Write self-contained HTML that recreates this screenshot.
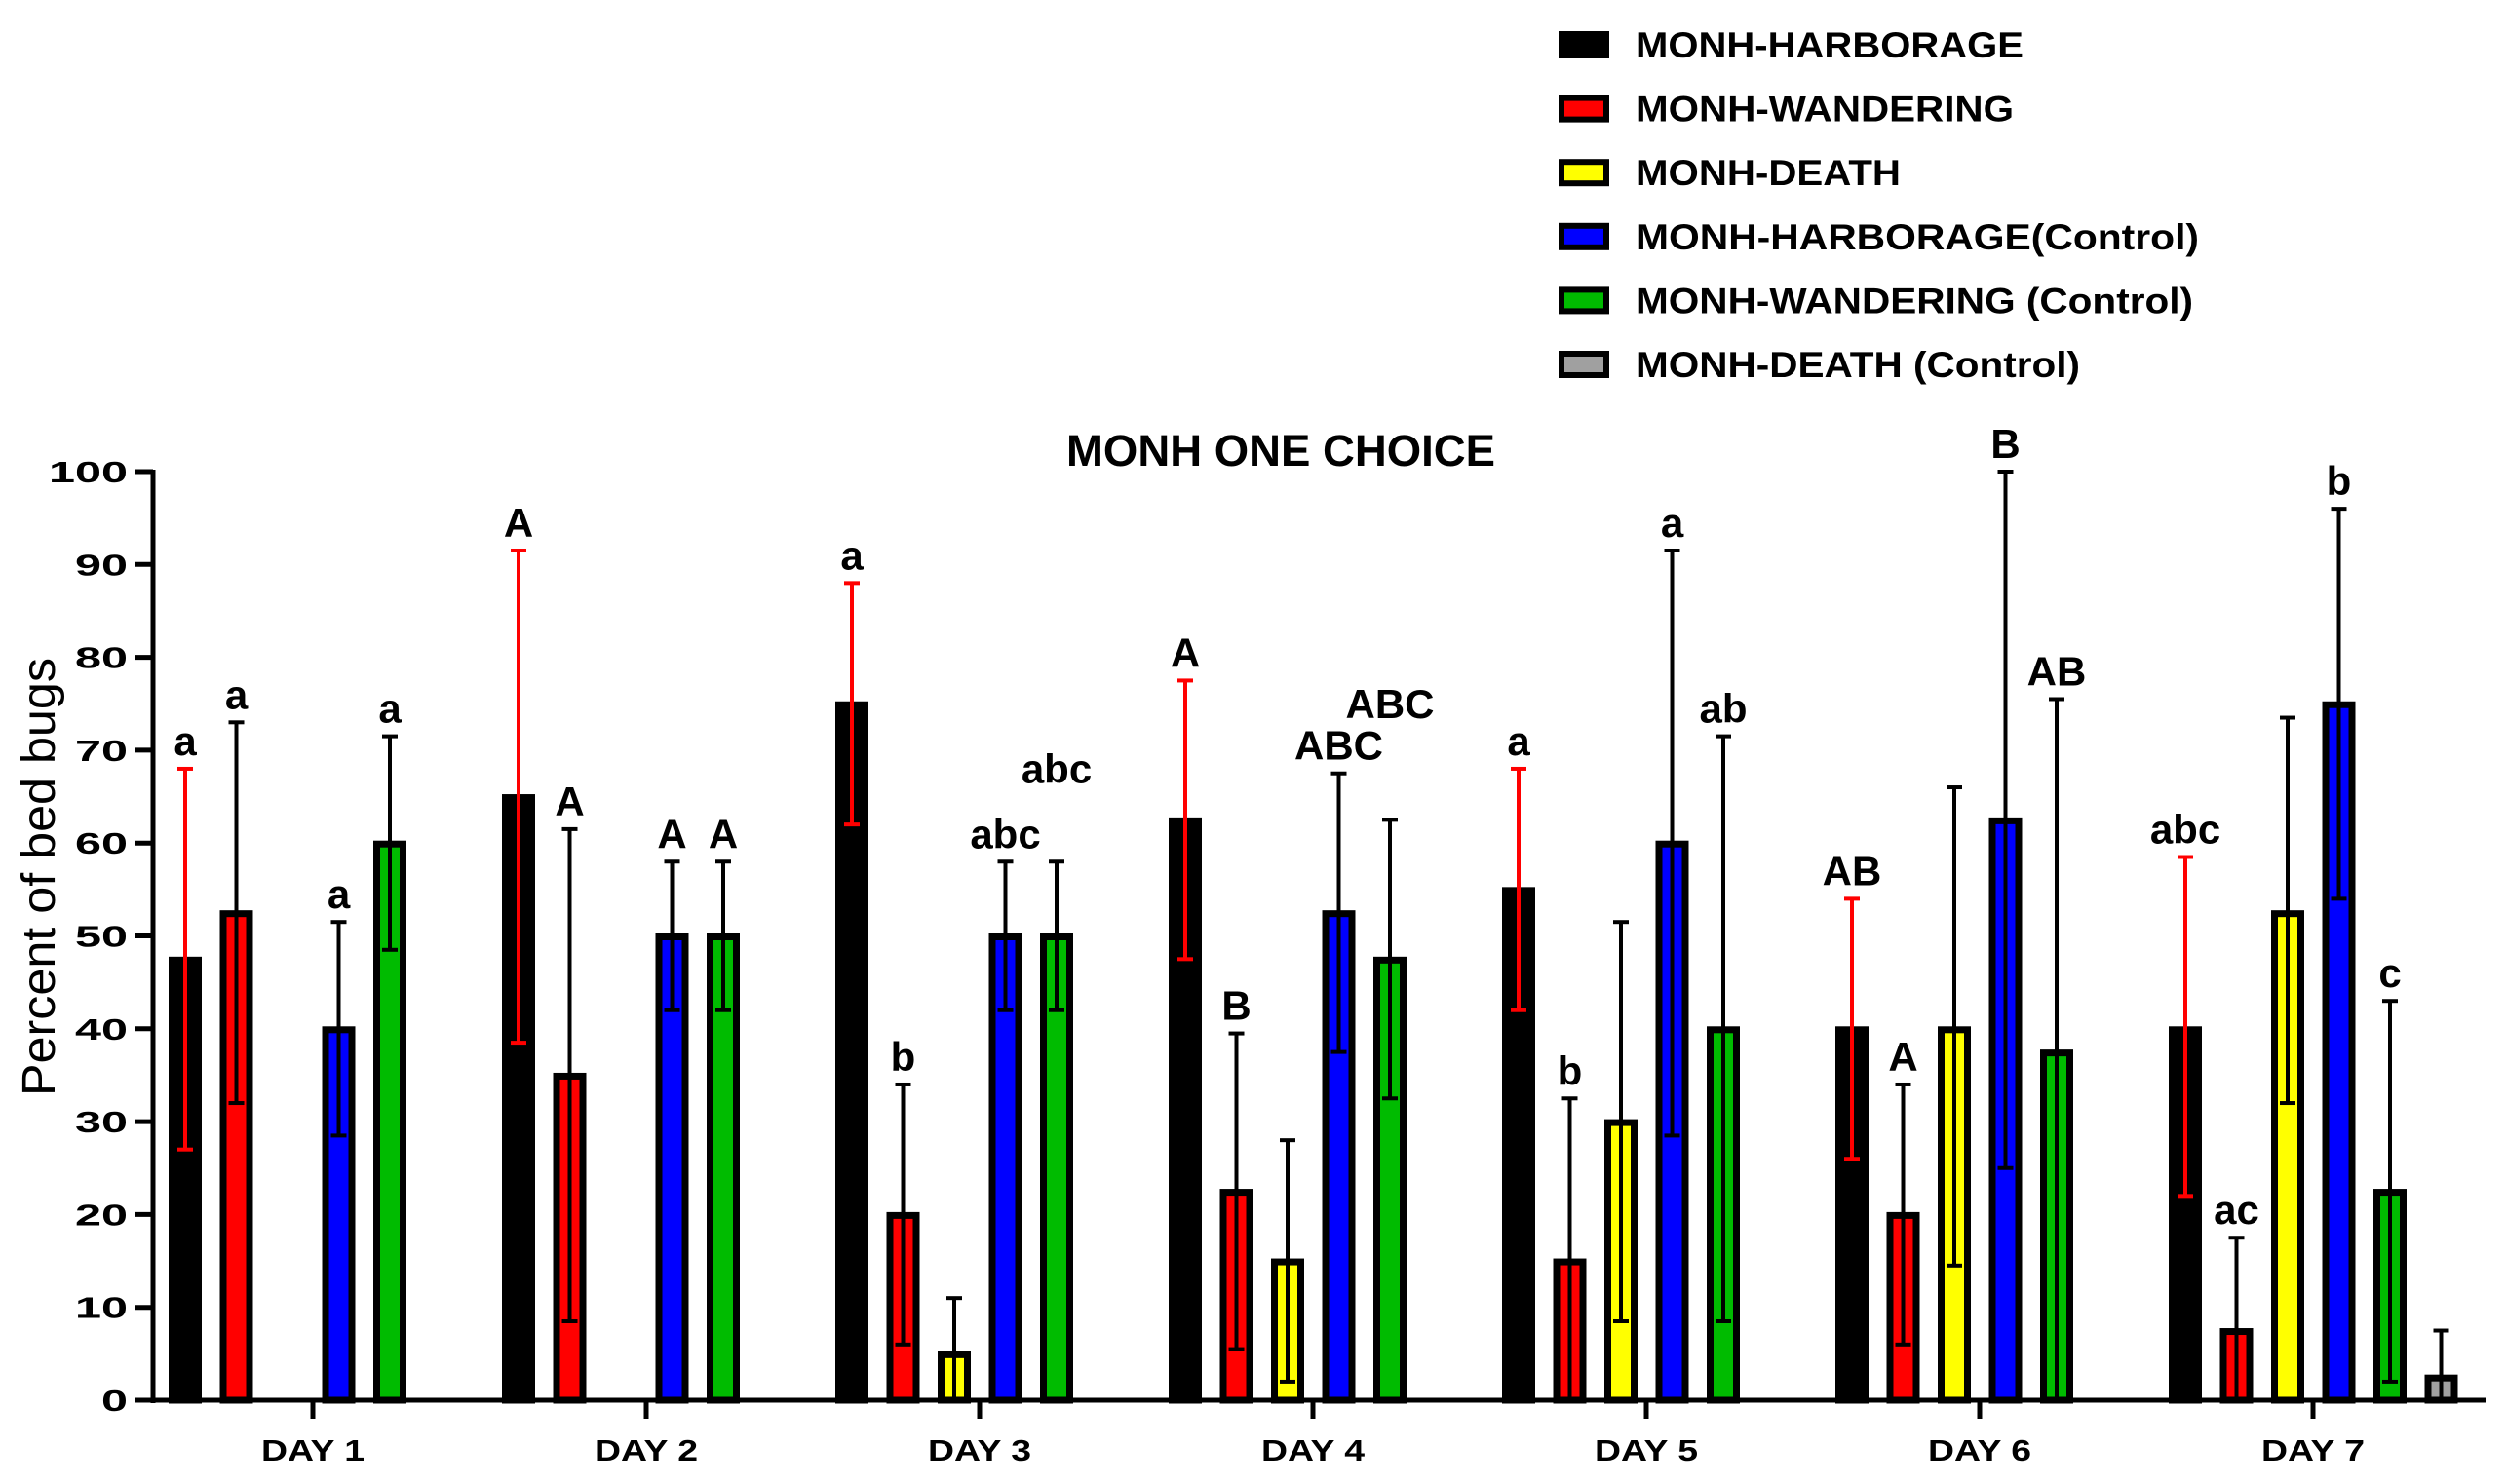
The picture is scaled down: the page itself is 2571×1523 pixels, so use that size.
<!DOCTYPE html>
<html><head><meta charset="utf-8"><style>
html,body{margin:0;padding:0;background:#fff;}
svg{display:block;font-family:"Liberation Sans",Arial,sans-serif;}
</style></head><body>
<svg id="chart" width="2571" height="1523" viewBox="0 0 2571 1523" xmlns="http://www.w3.org/2000/svg">
<text x="1314" y="478" font-size="45" font-weight="bold" text-anchor="middle" textLength="440" lengthAdjust="spacingAndGlyphs">MONH ONE CHOICE</text>
<text transform="translate(56,900) rotate(-90)" font-size="48" text-anchor="middle" textLength="450" lengthAdjust="spacingAndGlyphs">Percent of bed bugs</text>
<g id="legend"></g>
<g id="axes"></g>
<g id="bars"></g>
</svg>
<script>
const categories = ["DAY 1","DAY 2","DAY 3","DAY 4","DAY 5","DAY 6","DAY 7"];
const seriesNames = ["MONH-HARBORAGE","MONH-WANDERING","MONH-DEATH","MONH-HARBORAGE(Control)","MONH-WANDERING (Control)","MONH-DEATH (Control)"];
const seriesColors = ["#000000","#ff0000","#ffff00","#0000ff","#00bb00","#a0a0a0"];
const yTicks = [0,10,20,30,40,50,60,70,80,90,100];
// values per series [day1..day7]
const harborage = [47.5,65,75,62.5,55,40,40];
const wandering = [52.5,35,20,22.5,15,20,7.5];
const death = [0,0,5,15,30,40,52.5];
const harborageCtl = [40,50,50,52.5,60,62.5,75];
const wanderingCtl = [60,50,50,47.5,40,37.5,22.5];
const deathCtl = [0,0,0,0,0,0,2.5];
// error bar low/high
const harborageLo = [27,38.5,62,47.5,42,26,22];
const harborageHi = [68,91.5,88,77.5,68,54,58.5];
const wanderingLo = [32,8.5,6,5.5,0,6,0];
const wanderingHi = [73,61.5,34,39.5,32.5,34,17.5];
const deathLo = [0,0,0,2,8.5,14.5,32];
const deathHi = [0,0,11,28,51.5,66,73.5];
const harborageCtlLo = [28.5,42,42,37.5,28.5,25,54];
const harborageCtlHi = [51.5,58,58,67.5,91.5,100,96];
const wanderingCtlLo = [48.5,42,42,32.5,8.5,0,2];
const wanderingCtlHi = [71.5,58,58,62.5,71.5,75.5,43];
const deathCtlLo = [0,0,0,0,0,0,0];
const deathCtlHi = [0,0,0,0,0,0,7.5];
// significance letters
const harborageLbl = ["a","A","a","A","a","AB","abc"];
const wanderingLbl = ["a","A","b","B","b","A","ac"];
const harborageCtlLbl = ["a","A","abc","ABC","a","B","b"];
const wanderingCtlLbl = ["a","A","abc","ABC","ab","AB","c"];
const wanderingCtlLblY = [71.5,58,65,72,71.5,75.5,43];
const harborageCtlLblY = [51.5,58,58,67.5,91.5,100,96];

const values=[harborage,wandering,death,harborageCtl,wanderingCtl,deathCtl];
const lows=[harborageLo,wanderingLo,deathLo,harborageCtlLo,wanderingCtlLo,deathCtlLo];
const highs=[harborageHi,wanderingHi,deathHi,harborageCtlHi,wanderingCtlHi,deathCtlHi];
const labels=[harborageLbl,wanderingLbl,null,harborageCtlLbl,wanderingCtlLbl,null];
const labelYs=[harborageHi,wanderingHi,null,harborageCtlLblY,wanderingCtlLblY,null];

const NS="http://www.w3.org/2000/svg";
const X0=157,X1=2550,Y0=1437,Y100=484;
const yScale=v=>Y0-(v/100)*(Y0-Y100);
const dayX=i=>321+i*342;
const barX=(d,s)=>dayX(d)-148+s*52.5;
const BW=34;
function mk(tag,attrs,parent){const e=document.createElementNS(NS,tag);for(const k in attrs)e.setAttribute(k,attrs[k]);parent.appendChild(e);return e;}
const axes=document.getElementById('axes'),bars=document.getElementById('bars'),legend=document.getElementById('legend');

for(let s=0;s<6;s++){for(let d=0;d<7;d++){
  const v=values[s][d];if(v<=0)continue;
  const x=barX(d,s),y=yScale(v);
  const r=mk('rect',{x:x+3.5,y:y+1,width:BW-7,height:Y0-y-1,fill:seriesColors[s],stroke:'#000','stroke-width':7},bars);
  
  
}}
for(let s=0;s<6;s++){for(let d=0;d<7;d++){
  const hi=highs[s][d],lo=lows[s][d];if(hi<=0)continue;
  const cx=barX(d,s)+BW/2,col=s===0?'#ff0000':'#000';
  const g=mk('g',{stroke:col,'stroke-width':4},bars);
  
  
  mk('line',{x1:cx,x2:cx,y1:yScale(hi),y2:yScale(lo)},g);
  mk('line',{x1:cx-8,x2:cx+8,y1:yScale(hi),y2:yScale(hi)},g);
  if(lo>0)mk('line',{x1:cx-8,x2:cx+8,y1:yScale(lo),y2:yScale(lo)},g);
}}
for(let s=0;s<6;s++){if(!labels[s])continue;for(let d=0;d<7;d++){
  const cx=barX(d,s)+BW/2;
  const t=mk('text',{x:cx,y:yScale(labelYs[s][d])-14,'font-size':42,'font-weight':'bold','text-anchor':'middle'},bars);
  t.textContent=labels[s][d];
  
  
}}
mk('line',{x1:X0,x2:X0,y1:Y100-2,y2:Y0+3,stroke:'#000','stroke-width':5},axes);
mk('line',{x1:X0-2,x2:X1,y1:Y0,y2:Y0,stroke:'#000','stroke-width':5},axes);
yTicks.forEach(v=>{
  const y=yScale(v);
  mk('line',{x1:X0-18,x2:X0,y1:y,y2:y,stroke:'#000','stroke-width':5},axes);
  const s=String(v);
  const t=mk('text',{x:X0-26,y:y+11,'font-size':31,'font-weight':'bold','text-anchor':'end',textLength:s.length*27,lengthAdjust:'spacingAndGlyphs'},axes);
  t.textContent=s;
  
  
});
categories.forEach((c,i)=>{
  const x=dayX(i);
  mk('line',{x1:x,x2:x,y1:Y0,y2:Y0+19,stroke:'#000','stroke-width':5},axes);
  const t=mk('text',{x:x,y:1499,'font-size':31,'font-weight':'bold','text-anchor':'middle',textLength:106,lengthAdjust:'spacingAndGlyphs'},axes);
  t.textContent=c;
  
  
});
const legW=[398,388,272,578,572,456];
seriesNames.forEach((n,i)=>{
  const y=46+i*65.6;
  const g=mk('g',{},legend);
  
  
  mk('rect',{x:1602,y:y-11,width:46,height:22,fill:seriesColors[i],stroke:'#000','stroke-width':6},g);
  const t=mk('text',{x:1678,y:y+13,'font-size':37,'font-weight':'bold',textLength:legW[i],lengthAdjust:'spacingAndGlyphs'},g);
  t.textContent=n;
});
</script>
</body></html>
